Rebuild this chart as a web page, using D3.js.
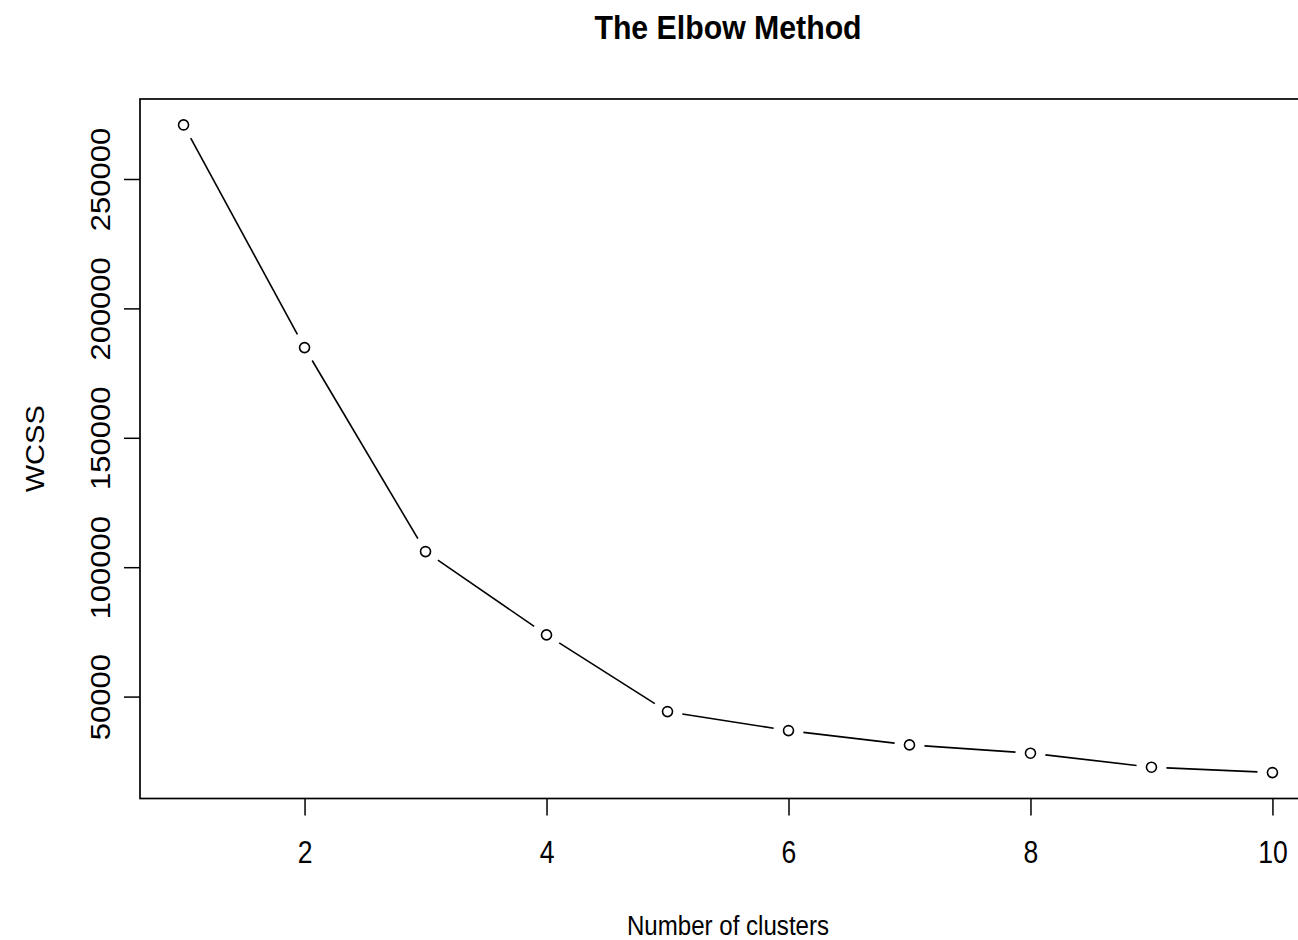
<!DOCTYPE html>
<html>
<head>
<meta charset="utf-8">
<script src="https://cdn.jsdelivr.net/npm/d3@7"></script>
<style>
  html, body { margin: 0; padding: 0; background: #fff; }
  svg { display: block; }
  text { font-family: "Liberation Sans", Arial, sans-serif; fill: #000; }
</style>
</head>
<body>
<svg id="chart" width="1298" height="940"></svg>
<script>
const clusters = [1, 2, 3, 4, 5, 6, 7, 8, 9, 10];
const wcss = [270900, 184850, 106030, 73840, 44200, 36860, 31340, 28130, 22720, 20630];
const xTickValues = [2, 4, 6, 8, 10];
const yTickValues = [50000, 100000, 150000, 200000, 250000];
const titleText = "The Elbow Method";
const xLabelText = "Number of clusters";
const yLabelText = "WCSS";

const svg = d3.select("#chart");
const plot = { left: 140, right: 1316, top: 99, bottom: 798.5 };
const SX = 0.87; // horizontal squeeze seen in the reference image

function padded(ext) {
  const d = (ext[1] - ext[0]) * 0.04;
  return [ext[0] - d, ext[1] + d];
}

const x = d3.scaleLinear().domain(padded(d3.extent(clusters))).range([plot.left, plot.right]);
const y = d3.scaleLinear().domain(padded(d3.extent(wcss))).range([plot.bottom, plot.top]);

// box
svg.append("rect")
  .attr("x", plot.left).attr("y", plot.top)
  .attr("width", plot.right - plot.left).attr("height", plot.bottom - plot.top)
  .attr("fill", "none").attr("stroke", "#000").attr("stroke-width", 1.7);

// x axis ticks
const xAxis = d3.axisBottom(x).tickValues(xTickValues).tickSize(17).tickFormat(d3.format("d"));
const gx = svg.append("g").attr("transform", `translate(0,${plot.bottom})`).call(xAxis);
gx.select(".domain").remove();
gx.selectAll(".tick line").attr("stroke", "#000").attr("stroke-width", 1.5);
gx.selectAll(".tick text").remove();
gx.selectAll(".tick").append("text")
  .attr("transform", `translate(0,${863 - plot.bottom}) scale(${SX},1)`)
  .attr("text-anchor", "middle")
  .attr("font-size", 30.5)
  .text(d => d);

// y axis ticks
const yAxis = d3.axisLeft(y).tickValues(yTickValues).tickSize(16).tickFormat(d3.format("d"));
const gy = svg.append("g").attr("transform", `translate(${plot.left},0)`).call(yAxis);
gy.select(".domain").remove();
gy.selectAll(".tick line").attr("stroke", "#000").attr("stroke-width", 1.5);
gy.selectAll(".tick text").remove();
gy.selectAll(".tick").append("text")
  .attr("transform", `translate(${110 - plot.left},0) rotate(-90) scale(1,${SX + 0.05})`)
  .attr("text-anchor", "middle")
  .attr("font-size", 31)
  .text(d => d);

// line segments with gaps (type = "b")
const pts = clusters.map((c, i) => [x(c), y(wcss[i])]);
const gap = 15;
const segs = d3.pairs(pts).map(([a, b]) => {
  const dx = b[0] - a[0], dy = b[1] - a[1];
  const len = Math.hypot(dx, dy);
  const ux = dx / len, uy = dy / len;
  return [a[0] + ux * gap, a[1] + uy * gap, b[0] - ux * gap, b[1] - uy * gap];
});
svg.append("g").selectAll("line").data(segs).join("line")
  .attr("x1", d => d[0]).attr("y1", d => d[1])
  .attr("x2", d => d[2]).attr("y2", d => d[3])
  .attr("stroke", "#000").attr("stroke-width", 1.6);

svg.append("g").selectAll("circle").data(clusters).join("circle")
  .attr("cx", d => x(d))
  .attr("cy", (d, i) => y(wcss[i]))
  .attr("r", 5)
  .attr("fill", "#fff").attr("stroke", "#000").attr("stroke-width", 1.6);

// title
svg.append("text")
  .attr("transform", `translate(${(plot.left + plot.right) / 2},39) scale(${SX + 0.02},1)`)
  .attr("text-anchor", "middle")
  .attr("font-size", 34).attr("font-weight", "bold")
  .text(titleText);

// x label
svg.append("text")
  .attr("transform", `translate(${(plot.left + plot.right) / 2},935) scale(${SX - 0.01},1)`)
  .attr("text-anchor", "middle")
  .attr("font-size", 28)
  .text(xLabelText);

// y label
svg.append("text")
  .attr("transform", `translate(44,${(plot.top + plot.bottom) / 2}) rotate(-90) scale(1,${SX})`)
  .attr("text-anchor", "middle")
  .attr("font-size", 29)
  .text(yLabelText);
</script>
</body>
</html>
